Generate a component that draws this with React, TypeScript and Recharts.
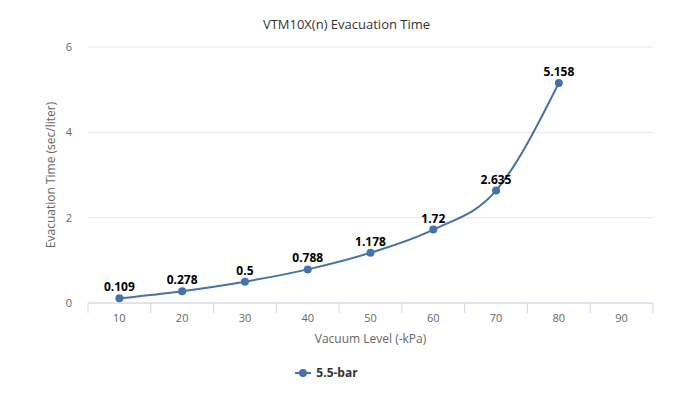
import React from "react";
import {
  LineChart,
  Line,
  XAxis,
  YAxis,
  CartesianGrid,
  Legend,
  LabelList,
  Label,
} from "recharts";

const categories = [10, 20, 30, 40, 50, 60, 70, 80, 90];
const evacuation = [0.109, 0.278, 0.5, 0.788, 1.178, 1.72, 2.635, 5.158, null];
const yTicks = [0, 2, 4, 6];
const seriesName = "5.5-bar";

const data = categories.map((c, i) => ({
  level: String(c),
  value: evacuation[i],
}));

const FONT = '"Open Sans", "DejaVu Sans", sans-serif';
const LINE = "#4572A7";
const AXIS = "#ccd6eb";

const W = 693;
const H = 401;
const LEFT = 88;
const RIGHT = 40;
const BAND = (W - LEFT - RIGHT) / categories.length;

// tick y arrives as axis y + tickSize(6) + tickMargin(2)
function XTick(props: any) {
  const { x, y, payload, index } = props;
  const axisY = y - 8;
  const left = x - BAND / 2;
  return (
    <g>
      <line x1={left} x2={left} y1={axisY} y2={axisY + 10} stroke={AXIS} />
      {index === categories.length - 1 && (
        <line
          x1={x + BAND / 2}
          x2={x + BAND / 2}
          y1={axisY}
          y2={axisY + 10}
          stroke={AXIS}
        />
      )}
      <text
        x={x}
        y={axisY + 19}
        textAnchor="middle"
        fill="#666"
        fontSize={11}
        fontFamily={FONT}
      >
        {payload.value}
      </text>
    </g>
  );
}

function LegendContent() {
  return (
    <div
      style={{
        display: "flex",
        justifyContent: "center",
        alignItems: "center",
        paddingTop: 11,
        fontFamily: FONT,
        fontSize: 12,
        fontWeight: "bold",
        color: "#333",
      }}
    >
      <svg width={16} height={10} style={{ marginRight: 5 }}>
        <line x1={0} x2={16} y1={5} y2={5} stroke={LINE} strokeWidth={2} />
        <circle cx={8} cy={5} r={4} fill={LINE} />
      </svg>
      <span>{seriesName}</span>
    </div>
  );
}

export default function App() {
  return (
    <div
      style={{
        position: "absolute",
        left: 0,
        top: 0,
        width: W,
        height: H,
        background: "#fff",
        fontFamily: FONT,
      }}
    >
      <div
        style={{
          position: "absolute",
          top: 15,
          left: 0,
          width: W,
          textAlign: "center",
          fontSize: 13,
          color: "#333",
        }}
      >
        VTM10X(n) Evacuation Time
      </div>
      <LineChart
        width={W}
        height={H}
        data={data}
        margin={{ top: 47, right: RIGHT, left: 0, bottom: 0 }}
      >
        <CartesianGrid vertical={false} stroke="#e6e6e6" />
        <XAxis
          dataKey="level"
          scale="band"
          height={50}
          stroke={AXIS}
          tickLine={false}
          tick={<XTick />}
          interval={0}
        >
          <Label
            value="Vacuum Level (-kPa)"
            position="insideBottom"
            offset={10}
            fill="#666"
            fontSize={12}
            fontFamily={FONT}
          />
        </XAxis>
        <YAxis
          width={LEFT}
          domain={[0, 6]}
          ticks={yTicks}
          axisLine={false}
          tickLine={false}
          tickSize={0}
          tickMargin={16}
          tick={{ fill: "#666", fontSize: 11, fontFamily: FONT }}
        >
          <Label
            content={(p: any) => {
              const vb = p.viewBox;
              const cx = 50;
              const cy = vb.y + vb.height / 2;
              return (
                <text
                  x={cx}
                  y={cy}
                  transform={`rotate(-90 ${cx} ${cy})`}
                  textAnchor="middle"
                  dominantBaseline="central"
                  fill="#666"
                  fontSize={12}
                  fontFamily={FONT}
                >
                  Evacuation Time (sec/liter)
                </text>
              );
            }}
          />
        </YAxis>
        <Legend
          verticalAlign="bottom"
          wrapperStyle={{ height: 48 }}
          content={<LegendContent />}
        />
        <Line
          type="monotone"
          dataKey="value"
          name={seriesName}
          stroke={LINE}
          strokeWidth={2}
          dot={{ r: 4, fill: LINE, stroke: LINE, strokeWidth: 0 }}
          activeDot={false}
          isAnimationActive={false}
        >
          <LabelList
            dataKey="value"
            position="top"
            offset={7}
            fill="#000"
            fontSize={12}
            fontWeight="bold"
            fontFamily={FONT}
          />
        </Line>
      </LineChart>
    </div>
  );
}
